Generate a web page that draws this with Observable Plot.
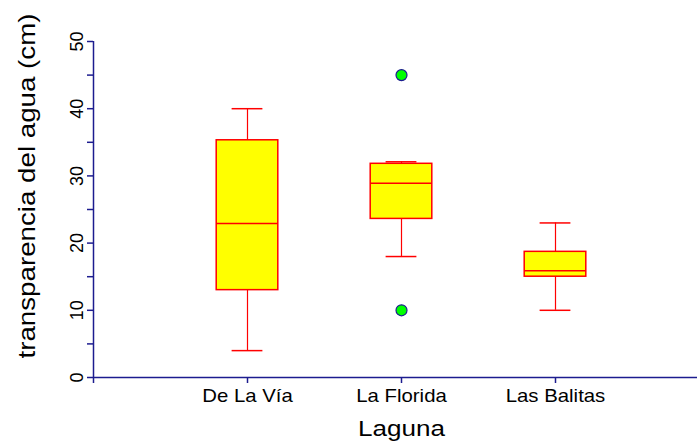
<!DOCTYPE html>
<html>
<head>
<meta charset="utf-8">
<script src="https://cdn.jsdelivr.net/npm/d3@7"></script>
<script src="https://cdn.jsdelivr.net/npm/@observablehq/plot@0.6"></script>
<style>
  html, body { margin: 0; padding: 0; background: #ffffff; }
  #chart svg { display: block; }
</style>
</head>
<body>
<div id="chart"></div>
<script>
// ---- Data ----
const lagunas = ["De La Vía", "La Florida", "Las Balitas"];
const minimo  = [4, 18, 10];
const q1      = [13, 23.6, 15];
const mediana = [22.9, 28.9, 15.9];
const q3      = [35.3, 31.8, 18.7];
const maximo  = [40, 32.1, 23];
const atipicoLaguna = ["La Florida", "La Florida"];
const atipicoValor  = [45, 10];
const yTicks = [0, 5, 10, 15, 20, 25, 30, 35, 40, 45, 50];
const yTitle = "transparencia del agua (cm)";
const xTitle = "Laguna";

// ---- Derived table ----
const boxes = lagunas.map((l, i) => ({
  laguna: l, pos: i + 1,
  min: minimo[i], q1: q1[i], med: mediana[i], q3: q3[i], max: maximo[i]
}));
const outliers = atipicoLaguna.map((l, i) => ({
  pos: lagunas.indexOf(l) + 1, valor: atipicoValor[i]
}));

const navy = "#1c1c8f";
const red = "#ff0000";
const halfBox = 0.2, halfCap = 0.1;

const plot = Plot.plot({
  width: 697,
  height: 442,
  marginLeft: 93,
  marginRight: 0,
  marginTop: 41,
  marginBottom: 65,
  style: { fontFamily: "'Liberation Sans', Arial, sans-serif", background: "#ffffff", color: "black" },
  x: { type: "linear", domain: [0, 604 / 154] },
  y: { domain: [0, 50] },
  marks: [
    // axis lines
    Plot.ruleY([0], { stroke: navy, strokeWidth: 1.5 }),
    Plot.ruleX([0], { y1: 0, y2: 50, stroke: navy, strokeWidth: 1.5 }),
    Plot.axisY({
      ticks: yTicks,
      tickFormat: d => d % 10 === 0 ? String(d) : "",
      tickSize: 6, tickPadding: 5, tickRotate: -90,
      fontSize: 18, stroke: navy, strokeWidth: 1.5, fill: "black", label: null
    }),
    Plot.axisX({
      ticks: [0, 1, 2, 3],
      tickFormat: d => d === 0 ? "" : lagunas[d - 1],
      tickSize: 6, tickPadding: 5,
      fontSize: 18.5, stroke: navy, strokeWidth: 1.5, fill: "black", label: null
    }),
    // whiskers
    Plot.ruleX(boxes, { x: "pos", y1: "min", y2: "q1", stroke: red, strokeWidth: 1.2 }),
    Plot.ruleX(boxes, { x: "pos", y1: "q3", y2: "max", stroke: red, strokeWidth: 1.2 }),
    // caps
    Plot.ruleY(boxes, { y: "min", x1: d => d.pos - halfCap, x2: d => d.pos + halfCap, stroke: red, strokeWidth: 1.5 }),
    Plot.ruleY(boxes, { y: "max", x1: d => d.pos - halfCap, x2: d => d.pos + halfCap, stroke: red, strokeWidth: 1.5 }),
    // boxes
    Plot.rect(boxes, { x1: d => d.pos - halfBox, x2: d => d.pos + halfBox, y1: "q1", y2: "q3", fill: "#ffff00", stroke: red, strokeWidth: 1.5 }),
    // medians
    Plot.ruleY(boxes, { y: "med", x1: d => d.pos - halfBox, x2: d => d.pos + halfBox, stroke: red, strokeWidth: 1.5 }),
    // outliers
    Plot.dot(outliers, { x: "pos", y: "valor", r: 5.5, fill: "#00ff00", stroke: navy, strokeWidth: 1.2 }),
    // titles
    Plot.text([yTitle], { frameAnchor: "left", rotate: -90, textAnchor: "start", dx: -66, dy: 149, fontSize: 24, fill: "black", lineAnchor: "middle" }),
    Plot.text([xTitle], { x: () => 2, frameAnchor: "bottom", dy: 51, fontSize: 22, fill: "black", lineAnchor: "middle" })
  ]
});

document.getElementById("chart").appendChild(plot);

// stretch texts along their baseline like the reference
const xLabels = new Set(lagunas);
d3.select(plot).selectAll("text").each(function() {
  const t = this.textContent;
  if (t === yTitle) { this.setAttribute("textLength", 345); this.setAttribute("lengthAdjust", "spacingAndGlyphs"); }
  else if (t === xTitle) { this.setAttribute("textLength", 87); this.setAttribute("lengthAdjust", "spacingAndGlyphs"); }
  else if (xLabels.has(t)) {
    const w = this.getComputedTextLength();
    this.setAttribute("textLength", (w * 1.1).toFixed(1));
    this.setAttribute("lengthAdjust", "spacingAndGlyphs");
  }
});
</script>
</body>
</html>
